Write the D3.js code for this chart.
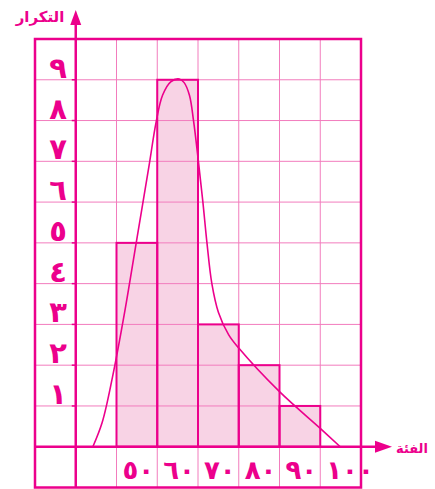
<!DOCTYPE html>
<html>
<head>
<meta charset="utf-8">
<script src="https://cdnjs.cloudflare.com/ajax/libs/d3/7.8.5/d3.min.js"></script>
<style>
  body { margin: 0; background: #fff; }
  svg { display: block; }
</style>
</head>
<body>
<div id="chart"></div>
<script>
// class starts and frequencies
var classStarts = [50, 60, 70, 80, 90];
var frequencies = [5, 9, 3, 2, 1];
// x tick labels (Arabic-Indic digits), one per column
var xTickValues = [50, 60, 70, 80, 90, 100];
var xTickLabels = ["٥٠", "٦٠", "٧٠", "٨٠", "٩٠", "١٠٠"];
var yTickValues = [1, 2, 3, 4, 5, 6, 7, 8, 9];
var yTickLabels = ["١", "٢", "٣", "٤", "٥", "٦", "٧", "٨", "٩"];
// hand drawn frequency curve
var curveX = [44.2, 46.5, 49, 52, 55, 58, 59.7, 61.3, 63.3, 65.4, 66.6, 67.9, 68.9, 70.1, 71.2, 72.2, 73.4, 75, 77.5, 80, 90, 100, 104.9];
var curveY = [0, 0.6, 1.7, 3.3, 5.1, 6.9, 7.95, 8.62, 8.95, 9.02, 8.93, 8.62, 8.0, 7.0, 6.0, 5.0, 4.0, 3.3, 2.75, 2.42, 1.35, 0.45, 0];

var xTitle = "الفئة";
var yTitle = "التكرار";

var width = 435, height = 489;
var magenta = "#ec008c";
var gridColor = "#f27cbd";
var barFill = "#f8d3e5";

var x = d3.scaleLinear().domain([30, 110]).range([35, 361]);
var y = d3.scaleLinear().domain([-1, 10]).range([487.5, 39]);

var svg = d3.select("#chart").append("svg")
    .attr("width", width)
    .attr("height", height);

// bars fill
var bars = svg.append("g");
bars.selectAll("rect").data(classStarts).enter().append("rect")
    .attr("x", function(d){ return x(d); })
    .attr("y", function(d, i){ return y(frequencies[i]); })
    .attr("width", function(d){ return x(d + 10) - x(d); })
    .attr("height", function(d, i){ return y(0) - y(frequencies[i]); })
    .attr("fill", barFill);

// grid
var g = svg.append("g");
g.selectAll("line.v").data(d3.range(50, 110, 10)).enter().append("line")
    .attr("x1", function(d){ return x(d); })
    .attr("x2", function(d){ return x(d); })
    .attr("y1", y(10)).attr("y2", y(-1))
    .attr("stroke", gridColor).attr("stroke-width", 1);
g.selectAll("line.h").data(d3.range(1, 10)).enter().append("line")
    .attr("x1", x(30)).attr("x2", x(110))
    .attr("y1", function(d){ return y(d); })
    .attr("y2", function(d){ return y(d); })
    .attr("stroke", gridColor).attr("stroke-width", 1);

// bar outlines
svg.append("g").selectAll("rect").data(classStarts).enter().append("rect")
    .attr("x", function(d){ return x(d); })
    .attr("y", function(d, i){ return y(frequencies[i]); })
    .attr("width", function(d){ return x(d + 10) - x(d); })
    .attr("height", function(d, i){ return y(0) - y(frequencies[i]); })
    .attr("fill", "none")
    .attr("stroke", magenta)
    .attr("stroke-width", 2);

// curve
var pts = curveX.map(function(v, i){ return [v, curveY[i]]; });
svg.append("path")
    .attr("d", d3.line()
        .x(function(d){ return x(d[0]); })
        .y(function(d){ return y(d[1]); })
        .curve(d3.curveCatmullRom.alpha(0.5))(pts))
    .attr("fill", "none")
    .attr("stroke", magenta)
    .attr("stroke-width", 1.6);

// frame
svg.append("rect")
    .attr("x", x(30)).attr("y", y(10))
    .attr("width", x(110) - x(30))
    .attr("height", y(-1) - y(10))
    .attr("fill", "none")
    .attr("stroke", magenta)
    .attr("stroke-width", 2.5);

// axes
svg.append("line")
    .attr("x1", x(40)).attr("x2", x(40))
    .attr("y1", y(-1)).attr("y2", 24)
    .attr("stroke", magenta).attr("stroke-width", 2.5);
svg.append("path")
    .attr("d", d3.line()([[x(40) - 5.5, 25], [x(40), 10], [x(40) + 5.5, 25]]))
    .attr("fill", magenta);
svg.append("line")
    .attr("x1", x(30)).attr("x2", 376)
    .attr("y1", y(0)).attr("y2", y(0))
    .attr("stroke", magenta).attr("stroke-width", 2.5);
svg.append("path")
    .attr("d", d3.line()([[375, y(0) - 6], [392, y(0)], [375, y(0) + 6]]))
    .attr("fill", magenta);

// y ticks
svg.selectAll("line.yt").data(yTickValues).enter().append("line")
    .attr("x1", x(40) - 4).attr("x2", x(40))
    .attr("y1", function(d){ return y(d); })
    .attr("y2", function(d){ return y(d); })
    .attr("stroke", magenta).attr("stroke-width", 1.5);
svg.selectAll("text.yl").data(yTickValues).enter().append("text")
    .attr("x", 58)
    .attr("y", function(d){ return y(d) - 2; })
    .attr("text-anchor", "middle")
    .attr("font-family", "DejaVu Sans")
    .attr("font-weight", "bold")
    .attr("font-size", 29)
    .attr("fill", magenta)
    .text(function(d, i){ return yTickLabels[i]; });

// x labels
svg.selectAll("text.xl").data(xTickValues).enter().append("text")
    .attr("x", function(d){ return x(d) + 6; })
    .attr("y", 479)
    .attr("font-family", "DejaVu Sans")
    .attr("font-weight", "bold")
    .attr("font-size", 26)
    .attr("fill", magenta)
    .text(function(d, i){ return xTickLabels[i]; });

// titles
svg.append("text")
    .attr("x", 40).attr("y", 22)
    .attr("text-anchor", "middle")
    .attr("font-family", "DejaVu Sans")
    .attr("font-weight", "bold")
    .attr("font-size", 15)
    .attr("fill", magenta)
    .text(yTitle);
svg.append("text")
    .attr("x", 412).attr("y", 453)
    .attr("text-anchor", "middle")
    .attr("font-family", "DejaVu Sans")
    .attr("font-weight", "bold")
    .attr("font-size", 13)
    .attr("fill", magenta)
    .text(xTitle);
</script>
</body>
</html>
